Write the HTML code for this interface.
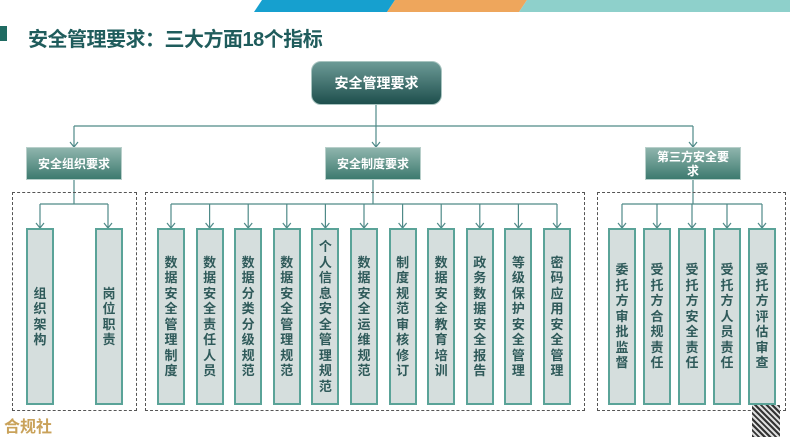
<!DOCTYPE html>
<html><head><meta charset="utf-8"><style>
body{margin:0;width:790px;height:444px;background:#fff;position:relative;overflow:hidden;font-family:"Liberation Sans","Noto Sans CJK SC",sans-serif}
.a{position:absolute}
.l2{position:absolute;top:147px;height:33px;width:96px;background:linear-gradient(#8fb5ad,#3d7a6f);border:1px solid #b8cfca;color:#fff;font-weight:bold;font-size:12px;display:flex;align-items:center;justify-content:center;text-align:center;line-height:14px;box-sizing:border-box}
.c{position:absolute;top:228px;height:177px;width:28px;background:#d5dedd;border:2px solid #5aa398;box-sizing:border-box;color:#2f5a5a;font-weight:bold;font-size:13px;display:flex;align-items:center;justify-content:center;text-align:center;line-height:15.5px;word-break:break-all;padding:0 5px}
.g{position:absolute;top:192px;height:219px;border:1.5px dashed #555;box-sizing:border-box}
</style></head><body>
<svg class="a" style="left:0;top:0" width="790" height="14">
<polygon points="262,0 395,0 387,12 254,12" fill="#16a0cf"/>
<polygon points="395,0 527,0 519,12 387,12" fill="#eea65c"/>
<polygon points="527,0 790,0 790,12 519,12" fill="#8ed0cb"/>
</svg>
<div class="a" style="left:0;top:26px;width:7px;height:15px;background:#1f6b62"></div>
<div class="a" style="left:28px;top:23px;font-size:20px;font-weight:bold;color:#1f5c5c;letter-spacing:-0.5px">安全管理要求：三大方面18个指标</div>
<div class="a" style="left:311px;top:61px;width:131px;height:44px;border-radius:10px;background:linear-gradient(#6c9a96,#1e4f4d);border:1px solid #a8c4c0;box-sizing:border-box;color:#fff;font-weight:bold;font-size:14px;display:flex;align-items:center;justify-content:center">安全管理要求</div>
<svg class="a" style="left:0;top:0" width="790" height="444" fill="none" stroke="#4f8a88" stroke-width="1.2">
<path d="M376 105V126M74 126H693M74 126V147M376 126V147M693 126V147"/>
<path d="M70 142l4 5 4-5M372 142l4 5 4-5M689 142l4 5 4-5"/>
<path d="M74 180V204M40 204H108M40 204V228M108 204V228M36 223l4 5 4-5M104 223l4 5 4-5"/>
<path d="M373 180V204M171 204H557"/>
<path d="M693 180V204M622 204H762"/>
<g id="arr"></g>
</svg>
<div class="l2" style="left:26px">安全组织要求</div>
<div class="l2" style="left:325px">安全制度要求</div>
<div class="l2" style="left:645px;width:96px;padding:0 8px">第三方安全要求</div>
<div class="g" style="left:12px;width:125px"></div>
<div class="g" style="left:145px;width:440px"></div>
<div class="g" style="left:597px;width:189px"></div>
<div class="c" style="left:26px">组织架构</div>
<div class="c" style="left:95px">岗位职责</div>
<div id="g2"></div>
<svg class="a" style="left:0;top:0" width="790" height="444" fill="none" stroke="#4f8a88" stroke-width="1.2">
<path d="M171 204v24M209.6 204v24M248.2 204v24M286.8 204v24M325.4 204v24M364 204v24M402.6 204v24M441.2 204v24M479.8 204v24M518.4 204v24M557 204v24"/>
<path d="M167 223l4 5 4-5M205.6 223l4 5 4-5M244.2 223l4 5 4-5M282.8 223l4 5 4-5M321.4 223l4 5 4-5M360 223l4 5 4-5M398.6 223l4 5 4-5M437.2 223l4 5 4-5M475.8 223l4 5 4-5M514.4 223l4 5 4-5M553 223l4 5 4-5"/>
<path d="M622 204v24M657 204v24M692 204v24M727 204v24M762 204v24"/>
<path d="M618 223l4 5 4-5M653 223l4 5 4-5M688 223l4 5 4-5M723 223l4 5 4-5M758 223l4 5 4-5"/>
</svg>
<div class="c" style="left:157px">数据安全管理制度</div>
<div class="c" style="left:195.6px">数据安全责任人员</div>
<div class="c" style="left:234.2px">数据分类分级规范</div>
<div class="c" style="left:272.8px">数据安全管理规范</div>
<div class="c" style="left:311.4px">个人信息安全管理规范</div>
<div class="c" style="left:350px">数据安全运维规范</div>
<div class="c" style="left:388.6px">制度规范审核修订</div>
<div class="c" style="left:427.2px">数据安全教育培训</div>
<div class="c" style="left:465.8px">政务数据安全报告</div>
<div class="c" style="left:504.4px">等级保护安全管理</div>
<div class="c" style="left:543px">密码应用安全管理</div>
<div class="c" style="left:608px">委托方审批监督</div>
<div class="c" style="left:643px">受托方合规责任</div>
<div class="c" style="left:678px">受托方安全责任</div>
<div class="c" style="left:713px">受托方人员责任</div>
<div class="c" style="left:748px">受托方评估审查</div>
<div class="a" style="left:4px;top:413px;font-size:16px;font-weight:bold;color:#c9a25a">合规社</div>
<div class="a" style="left:752px;top:405px;width:28px;height:32px;background:repeating-linear-gradient(45deg,#333 0 2px,#ddd 2px 4px)"></div>
</body></html>
